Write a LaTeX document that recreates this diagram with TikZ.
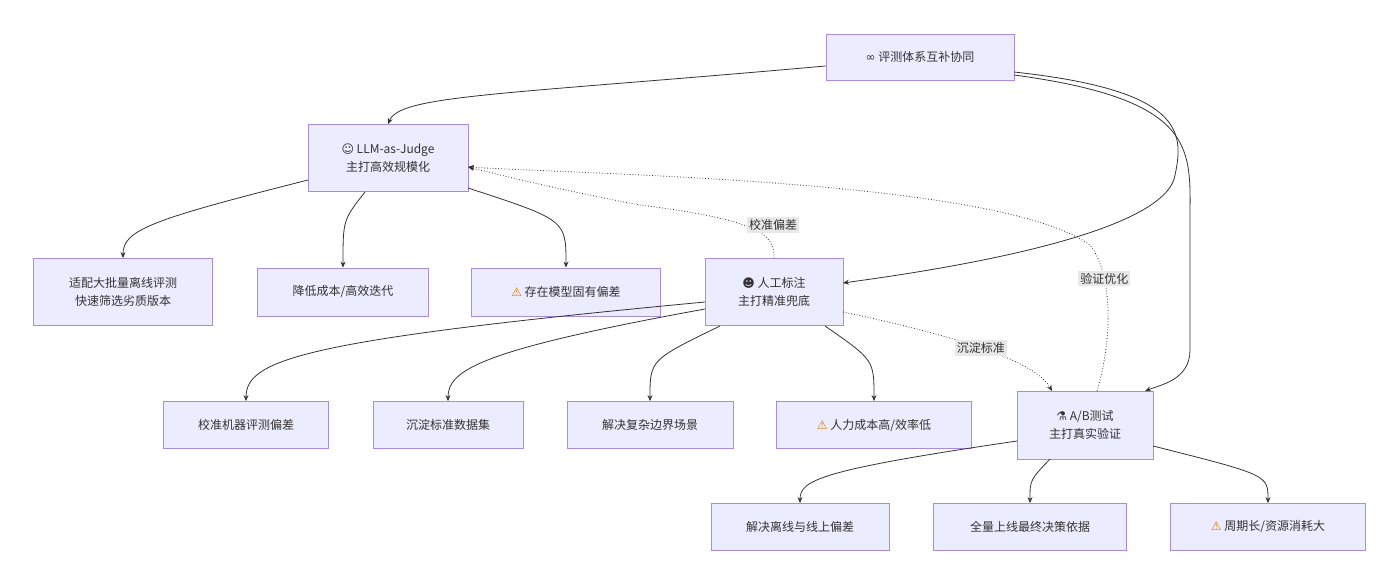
\documentclass[tikz,border=0pt]{standalone}
\usepackage{fontspec}
\setmainfont{Noto Sans CJK SC}
\newfontfamily\sym{DejaVu Sans}
\usetikzlibrary{arrows.meta}
\definecolor{nf}{HTML}{ECECFF}
\definecolor{ns}{HTML}{A98BE0}
\definecolor{ln}{HTML}{333333}
\begin{document}
\begin{tikzpicture}[x=1pt,y=-1pt,
 box/.style={draw=ns,fill=nf,line width=0.8pt,align=center,font=\fontsize{12}{18}\selectfont,text=ln,inner sep=0pt},
 e/.style={draw=ln,line width=0.8pt,-{Stealth[length=6pt,width=5pt]}},
 d/.style={e,dotted},
 lb/.style={fill=black!9,font=\fontsize{12}{14}\selectfont,text=ln,inner sep=2pt}]
\useasboundingbox (0,0) rectangle (1400,585);
\newcommand{\wn}{{\sym\textcolor{orange!90!black}{⚠}}\ }
\node[box,minimum width=188,minimum height=46] (top) at (920,57) {{\sym ∞}\ 评测体系互补协同};
\node[box,minimum width=160,minimum height=67] (llm) at (388,158) {{\sym ☺}\ LLM-as-Judge\\主打高效规模化};
\node[box,minimum width=179,minimum height=67] (a1) at (123,292) {适配大批量离线评测\\快速筛选劣质版本};
\node[box,minimum width=171,minimum height=48] (a2) at (343,292) {降低成本/高效迭代};
\node[box,minimum width=189,minimum height=48] (a3) at (566,292) {\wn 存在模型固有偏差};
\node[box,minimum width=138,minimum height=67] (hu) at (774,292) {{\sym ☻}\ 人工标注\\主打精准兜底};
\node[box,minimum width=165,minimum height=47] (b1) at (246,425) {校准机器评测偏差};
\node[box,minimum width=150,minimum height=47] (b2) at (448,425) {沉淀标准数据集};
\node[box,minimum width=166,minimum height=47] (b3) at (650,425) {解决复杂边界场景};
\node[box,minimum width=195,minimum height=47] (b4) at (874,425) {\wn 人力成本高/效率低};
\node[box,minimum width=136,minimum height=68] (ab) at (1085,425) {{\sym ⚗}\ A/B测试\\主打真实验证};
\node[box,minimum width=178,minimum height=47] (c1) at (800,527) {解决离线与线上偏差};
\node[box,minimum width=193,minimum height=47] (c2) at (1030,527) {全量上线最终决策依据};
\node[box,minimum width=195,minimum height=47] (c3) at (1268,527) {\wn 周期长/资源消耗大};
\draw[e] (top.west|-0,66) .. controls (500,95) and (400,95) .. (llm.north);
\draw[e] (1014,72) .. controls (1180,90) and (1185,130) .. (1175,175) .. controls (1165,240) and (900,275) .. (843,283);
\draw[e] (1014,75) .. controls (1200,100) and (1190,150) .. (1190,220) -- (1190,350) .. controls (1190,380) and (1160,385) .. (1145,391);
\draw[e] (308,180) .. controls (150,220) and (123,230) .. (a1.north);
\draw[e] (365,192) .. controls (343,220) .. (a2.north);
\draw[e] (468,188) .. controls (566,220) .. (a3.north);
\draw[e] (705,302) .. controls (300,340) and (246,360) .. (b1.north);
\draw[e] (705,309) .. controls (480,350) and (448,370) .. (b2.north);
\draw[e] (720,326) .. controls (650,360) .. (b3.north);
\draw[e] (825,326) .. controls (874,360) .. (b4.north);
\draw[e] (1017,441) .. controls (820,470) and (800,480) .. (c1.north);
\draw[e] (1050,459) .. controls (1030,480) .. (c2.north);
\draw[e] (1153,446) .. controls (1268,475) .. (c3.north);
\draw[d] (hu.north) .. controls (775,235) and (760,220) .. (640,205) .. controls (560,190) and (500,175) .. (468,167);
\node[lb] (l1) at (773,225) {校准偏差};
\draw[d] (843,312) .. controls (1000,345) and (1040,370) .. node[lb,pos=0.4]{沉淀标准} (1052,391);
\draw[d] (1097,391) .. controls (1115,330) and (1110,270) .. node[lb,pos=0.68]{验证优化} (1090,245) .. controls (1000,180) and (600,175) .. (468,167);
\end{tikzpicture}
\end{document}
